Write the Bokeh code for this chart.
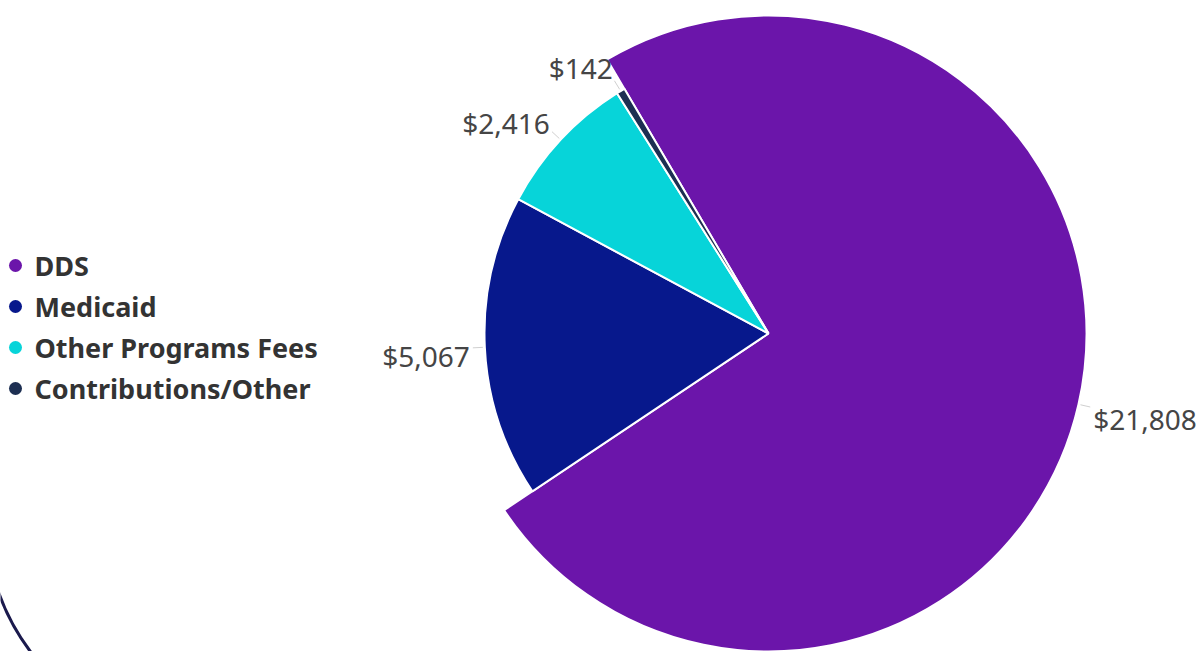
import numpy as np
from bokeh.plotting import figure
from bokeh.models import ColumnDataSource, Range1d
from bokeh.embed import file_html
from bokeh.resources import INLINE
from bokeh.core.properties import value

# ---- data ----
categories = ["DDS", "Medicaid", "Other Programs Fees", "Contributions/Other"]
amounts = [21808, 5067, 2416, 142]
value_labels = ["$21,808", "$5,067", "$2,416", "$142"]
colors = ["#6b15aa", "#07188c", "#07d4d9", "#1d2f52"]

# ---- layout / style ----
W, H = 1204, 651
cx, cy = 768, H - 333
radii = [318, 284, 284, 284]
theta0 = np.radians(120.5)
FONT = "Noto Sans"

p = figure(width=W, height=H, x_range=Range1d(0, W), y_range=Range1d(0, H),
           output_backend="svg", toolbar_location=None,
           x_axis_location=None, y_axis_location=None,
           min_border=0)
p.min_border_left = p.min_border_right = p.min_border_top = p.min_border_bottom = 0
p.grid.visible = False
p.outline_line_color = None
p.background_fill_color = "white"
p.border_fill_color = "white"

amt = np.array(amounts, dtype=float)
frac = amt / amt.sum()
cum_end = np.cumsum(frac)
cum_start = cum_end - frac
starts = theta0 - 2 * np.pi * cum_end
ends = theta0 - 2 * np.pi * cum_start
mids = (starts + ends) / 2

src = ColumnDataSource(dict(x=[cx] * 4, y=[cy] * 4, r=radii, start=starts, end=ends,
                            color=colors, cat=categories))
p.wedge(x="x", y="y", radius="r", start_angle="start", end_angle="end",
        direction="anticlock", fill_color="color", line_color="white",
        line_width=2, source=src)

# data labels with connectors
lx, ly, align, c_x0, c_y0, c_x1, c_y1 = [], [], [], [], [], [], []
for r, a in zip(radii, mids):
    ca, sa = np.cos(a), np.sin(a)
    lx.append(cx + (r + 15) * ca)
    ly.append(cy + (r + 35) * sa - 7)
    align.append("left" if ca > 0 else "right")
    c_x0.append(cx + (r + 2) * ca); c_y0.append(cy + (r + 2) * sa)
    c_x1.append(cx + (r + 12) * ca); c_y1.append(cy + (r + 12) * sa)

p.segment(x0=c_x0, y0=c_y0, x1=c_x1, y1=c_y1, line_color="#d0d0d0", line_width=1)
lsrc = ColumnDataSource(dict(x=lx, y=ly, t=value_labels, a=align))
p.text(x="x", y="y", text="t", text_align="a", text_baseline="middle",
       text_font=value(FONT), text_font_size="28px", text_color="#454545", source=lsrc)

# legend (manual)
leg_y = [H - 265 - 41 * i for i in range(len(categories))]
p.scatter(x=[15] * len(categories), y=leg_y, size=13, marker="circle",
          fill_color=colors, line_color=None)
p.text(x=[34] * len(categories), y=leg_y, text=categories, text_baseline="middle",
       text_font=value(FONT), text_font_style="bold", text_font_size="27px",
       text_color="#333333")

# decorative arc at bottom-left
p.arc(x=[207], y=[H - 517], radius=222, start_angle=np.radians(198), end_angle=np.radians(228),
      line_color="#1b1a4d", line_width=3)

open("out.html", "w").write(file_html(p, INLINE))
